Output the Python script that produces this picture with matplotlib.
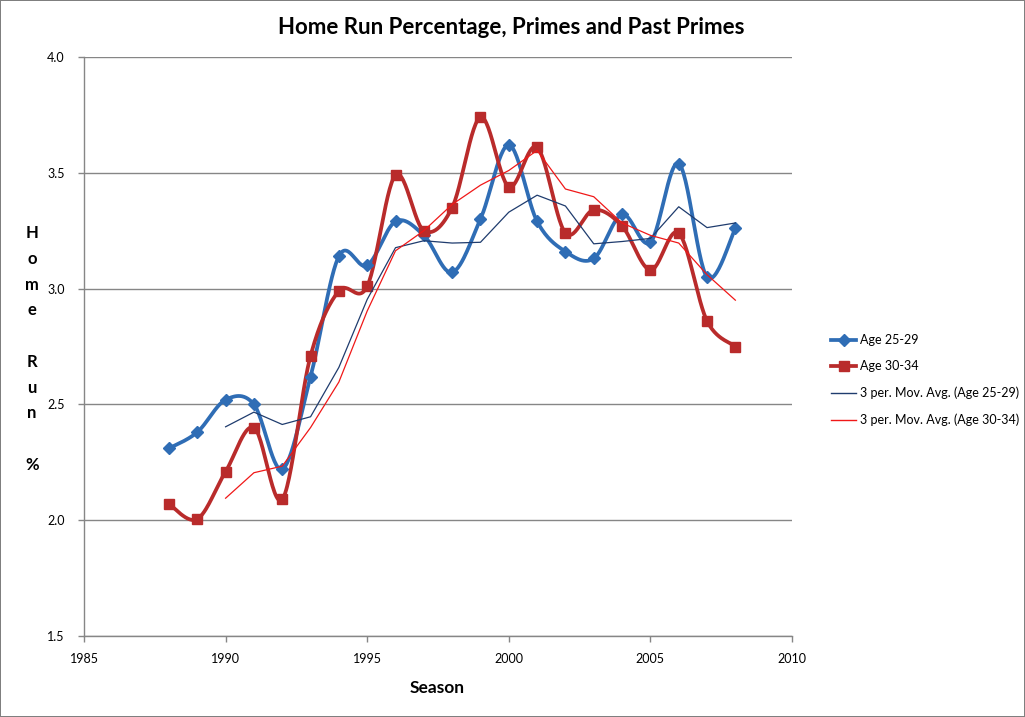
import numpy as np
import matplotlib
matplotlib.use("Agg")
import matplotlib.pyplot as plt
from matplotlib.lines import Line2D

# ---- data ----
years = list(range(1988, 2009))
age_25_29 = [2.31, 2.38, 2.52, 2.50, 2.22, 2.62, 3.14, 3.10, 3.29, 3.23, 3.07,
             3.30, 3.62, 3.29, 3.16, 3.13, 3.32, 3.20, 3.54, 3.05, 3.26]
age_30_34 = [2.07, 2.005, 2.21, 2.40, 2.09, 2.71, 2.99, 3.01, 3.49, 3.25, 3.35,
             3.74, 3.44, 3.61, 3.24, 3.34, 3.27, 3.08, 3.24, 2.86, 2.75]
series_labels = ["Age 25-29", "Age 30-34",
                 "3 per. Mov. Avg. (Age 25-29)", "3 per. Mov. Avg. (Age 30-34)"]
x_ticks = [1985, 1990, 1995, 2000, 2005, 2010]
y_ticks = [1.5, 2.0, 2.5, 3.0, 3.5, 4.0]

plt.rcParams['font.family'] = ['Lato', 'DejaVu Sans']

BLUE = "#2F6DB5"
RED = "#B92B2B"
NAVY = "#1F3C6E"
BRIGHT_RED = "#F01818"
GRID = "#868686"


def smooth(xs, ys, n=30):
    """Excel-like smoothed line: cubic Bezier segments with 1/6 tangents."""
    P = np.column_stack([xs, ys]).astype(float)
    m = len(P)
    out = []
    for i in range(m - 1):
        p0 = P[max(i - 1, 0)]
        p1 = P[i]
        p2 = P[i + 1]
        p3 = P[min(i + 2, m - 1)]
        c1 = p1 + (p2 - p0) / 6.0
        c2 = p2 - (p3 - p1) / 6.0
        t = np.linspace(0, 1, n)[:, None]
        seg = ((1 - t) ** 3) * p1 + 3 * ((1 - t) ** 2) * t * c1 + 3 * (1 - t) * t ** 2 * c2 + t ** 3 * p2
        if i > 0:
            seg = seg[1:]
        out.append(seg)
    out = np.vstack(out)
    return out[:, 0], out[:, 1]


def moving_avg(v, k=3):
    v = np.asarray(v, float)
    return np.convolve(v, np.ones(k) / k, mode="valid")


fig = plt.figure(figsize=(10.25, 7.17), dpi=100, linewidth=1.2, edgecolor="#7f7f7f")
ax = fig.add_axes([84 / 1025, 1 - 636 / 717, (792 - 84) / 1025, (636 - 57) / 717])

ax.set_xlim(1985, 2010)
ax.set_ylim(1.5, 4.0)
ax.set_xticks(x_ticks)
ax.set_yticks(y_ticks)
ax.set_yticklabels([f"{v:.1f}" for v in y_ticks])
ax.grid(axis="y", color=GRID, linewidth=1.0)
ax.set_axisbelow(True)
for s in ["top", "right"]:
    ax.spines[s].set_visible(False)
for s in ["left", "bottom"]:
    ax.spines[s].set_color(GRID)
    ax.spines[s].set_linewidth(1.0)
ax.tick_params(axis="both", colors=GRID, labelcolor="black", length=4, width=1,
               labelsize=9)
ax.tick_params(axis="x", pad=8)
ax.tick_params(axis="y", pad=10)

# smoothed main series
sx, sy = smooth(years, age_25_29)
ax.plot(sx, sy, color=BLUE, linewidth=2.7, solid_capstyle="round", zorder=3)
ax.plot(years, age_25_29, linestyle="none", marker="D", markersize=6.5,
        color=BLUE, zorder=4)

sx, sy = smooth(years, age_30_34)
ax.plot(sx, sy, color=RED, linewidth=2.7, solid_capstyle="round", zorder=3)
ax.plot(years, age_30_34, linestyle="none", marker="s", markersize=7.5,
        color=RED, zorder=4)

# moving averages
ma_years = years[2:]
ax.plot(ma_years, moving_avg(age_25_29), color=NAVY, linewidth=0.9, zorder=5)
ax.plot(ma_years, moving_avg(age_30_34), color=BRIGHT_RED, linewidth=0.9, zorder=5)

# legend
handles = [
    Line2D([], [], color=BLUE, linewidth=2.7, marker="D", markersize=6),
    Line2D([], [], color=RED, linewidth=2.7, marker="s", markersize=7),
    Line2D([], [], color=NAVY, linewidth=1.0),
    Line2D([], [], color=BRIGHT_RED, linewidth=1.0),
]
fig.legend(handles, series_labels, loc="center left",
           bbox_to_anchor=(825 / 1025, 1 - 380 / 717), frameon=False,
           fontsize=9, handlelength=2.0, handletextpad=0.3, labelspacing=1.15,
           borderpad=0)

# titles / labels
fig.text(511 / 1025, 1 - 27 / 717, "Home Run Percentage, Primes and Past Primes",
         ha="center", va="center", fontsize=16, fontweight="bold")
fig.text(437 / 1025, 1 - 688 / 717, "Season", ha="center", va="center",
         fontsize=12.5, fontweight="bold")
fig.text(32 / 1025, 1 - 349 / 717, "H\no\nm\ne\n\nR\nu\nn\n\n%", ha="center",
         va="center", fontsize=12, fontweight="bold", linespacing=1.75,
         multialignment="center")

fig.savefig("out.png", dpi=100)
